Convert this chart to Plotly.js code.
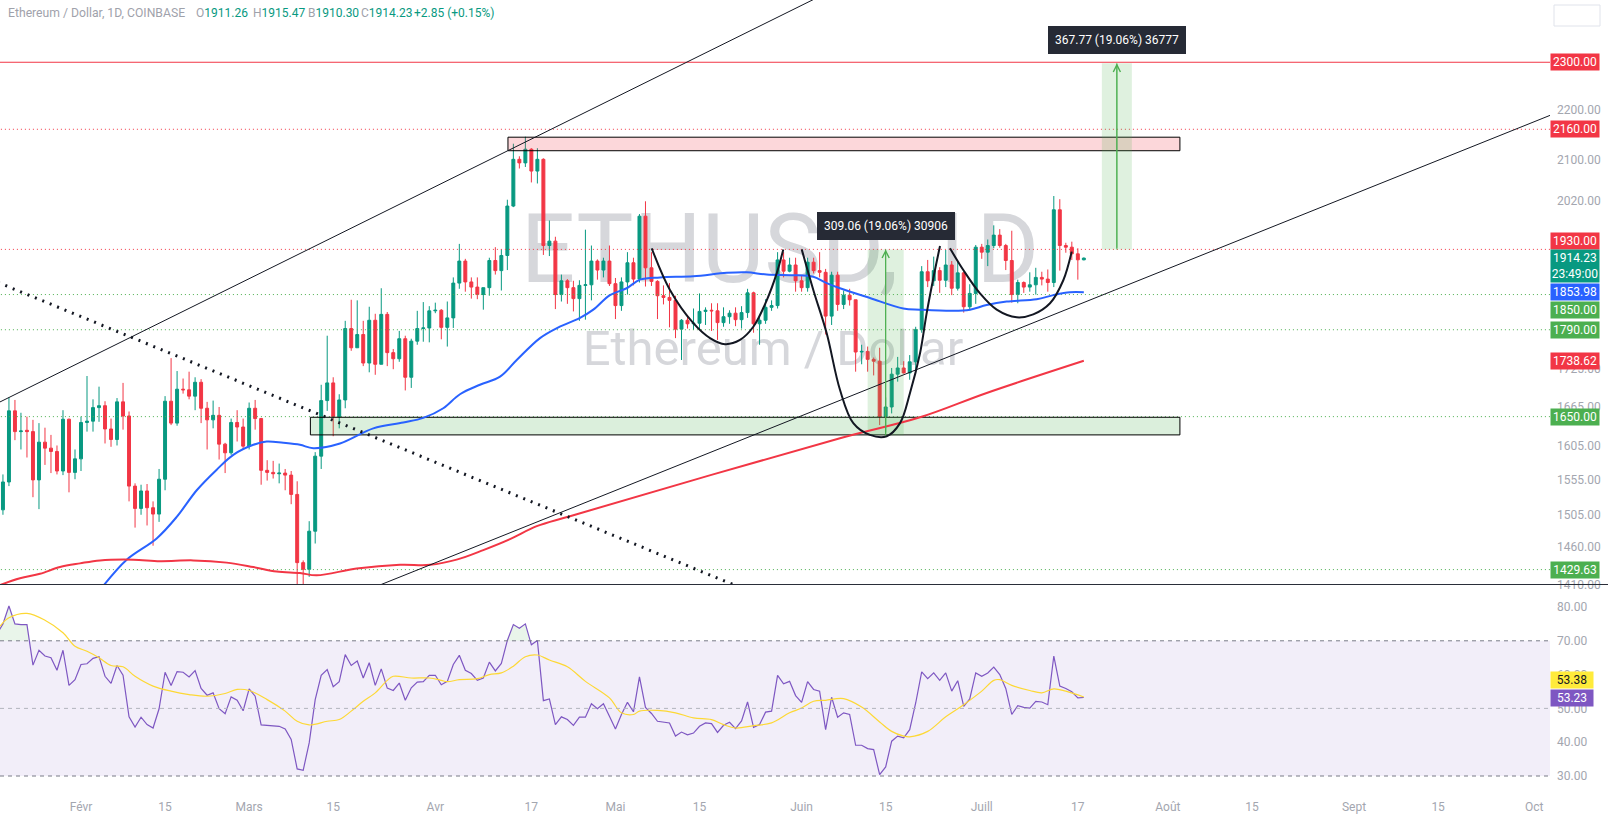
<!DOCTYPE html>
<html><head><meta charset="utf-8">
<script src="https://cdn.plot.ly/plotly-3.0.1.min.js"></script>
<style>
html,body{margin:0;padding:0;background:#fff;}
#wrap{position:relative;width:1608px;height:820px;overflow:hidden;background:#fff;}
.wm{position:absolute;width:1550px;text-align:center;font-family:Roboto,'Noto Sans',sans-serif;color:#d6d7db;white-space:nowrap;line-height:1;}
#wm1{font-size:96px;top:201px;left:5px;}
#wm2{font-size:49px;top:324px;left:-2px;}
#chart{position:absolute;left:0;top:0;width:1608px;height:820px;}
</style></head>
<body><div id="wrap"><div id="wm1" class="wm">ETHUSD, 1D</div><div id="wm2" class="wm">Ethereum / Dollar</div><div id="chart"></div></div>
<script>
// ---------- daily candles (Coinbase ETH/USD) ----------
const DATES = [
'2023-01-18','2023-01-19','2023-01-20','2023-01-21','2023-01-22','2023-01-23','2023-01-24','2023-01-25','2023-01-26','2023-01-27','2023-01-28','2023-01-29','2023-01-30','2023-01-31',
'2023-02-01','2023-02-02','2023-02-03','2023-02-04','2023-02-05','2023-02-06','2023-02-07','2023-02-08','2023-02-09','2023-02-10','2023-02-11','2023-02-12','2023-02-13','2023-02-14','2023-02-15','2023-02-16','2023-02-17','2023-02-18','2023-02-19','2023-02-20','2023-02-21','2023-02-22','2023-02-23','2023-02-24','2023-02-25','2023-02-26','2023-02-27','2023-02-28',
'2023-03-01','2023-03-02','2023-03-03','2023-03-04','2023-03-05','2023-03-06','2023-03-07','2023-03-08','2023-03-09','2023-03-10','2023-03-11','2023-03-12','2023-03-13','2023-03-14','2023-03-15','2023-03-16','2023-03-17','2023-03-18','2023-03-19','2023-03-20','2023-03-21','2023-03-22','2023-03-23','2023-03-24','2023-03-25','2023-03-26','2023-03-27','2023-03-28','2023-03-29','2023-03-30','2023-03-31',
'2023-04-01','2023-04-02','2023-04-03','2023-04-04','2023-04-05','2023-04-06','2023-04-07','2023-04-08','2023-04-09','2023-04-10','2023-04-11','2023-04-12','2023-04-13','2023-04-14','2023-04-15','2023-04-16','2023-04-17','2023-04-18','2023-04-19','2023-04-20','2023-04-21','2023-04-22','2023-04-23','2023-04-24','2023-04-25','2023-04-26','2023-04-27','2023-04-28','2023-04-29','2023-04-30',
'2023-05-01','2023-05-02','2023-05-03','2023-05-04','2023-05-05','2023-05-06','2023-05-07','2023-05-08','2023-05-09','2023-05-10','2023-05-11','2023-05-12','2023-05-13','2023-05-14','2023-05-15','2023-05-16','2023-05-17','2023-05-18','2023-05-19','2023-05-20','2023-05-21','2023-05-22','2023-05-23','2023-05-24','2023-05-25','2023-05-26','2023-05-27','2023-05-28','2023-05-29','2023-05-30','2023-05-31',
'2023-06-01','2023-06-02','2023-06-03','2023-06-04','2023-06-05','2023-06-06','2023-06-07','2023-06-08','2023-06-09','2023-06-10','2023-06-11','2023-06-12','2023-06-13','2023-06-14','2023-06-15','2023-06-16','2023-06-17','2023-06-18','2023-06-19','2023-06-20','2023-06-21','2023-06-22','2023-06-23','2023-06-24','2023-06-25','2023-06-26','2023-06-27','2023-06-28','2023-06-29','2023-06-30',
'2023-07-01','2023-07-02','2023-07-03','2023-07-04','2023-07-05','2023-07-06','2023-07-07','2023-07-08','2023-07-09','2023-07-10','2023-07-11','2023-07-12','2023-07-13','2023-07-14','2023-07-15','2023-07-16','2023-07-17','2023-07-18'];
const OPEN = [
1567,1512,1552,1659,1627,1629,1627,1555,1611,1602,1597,1568,1646,1566,
1586,1641,1643,1664,1667,1631,1615,1673,1651,1546,1514,1539,1515,1506,1556,1674,1640,1693,1692,1682,1704,1663,1645,1652,1608,1595,1641,1634,
1605,1663,1647,1569,1566,1564,1565,1562,1534,1439,1430,1482,1590,1675,1703,1650,1676,1792,1760,1782,1735,1806,1733,1816,1752,1742,1775,1712,1771,1792,1793,
1822,1823,1794,1810,1870,1909,1872,1863,1850,1862,1910,1892,1919,2010,2100,2093,2120,2077,2100,1937,1945,1850,1874,1862,1843,1866,1867,1909,1893,1909,
1869,1831,1872,1906,1877,1991,1897,1873,1848,1845,1840,1791,1806,1800,1801,1821,1823,1822,1802,1812,1818,1807,1819,1853,1800,1806,1828,1831,1911,1891,1902,
1874,1862,1907,1892,1889,1813,1884,1833,1849,1841,1753,1754,1741,1738,1650,1665,1717,1727,1719,1737,1790,1890,1874,1892,1875,1902,1861,1888,1829,1852,
1934,1925,1937,1956,1937,1910,1850,1871,1863,1867,1880,1877,1871,2003,1937,1934,1922,1911.26];
const HIGH = [
1604,1563,1680,1676,1656,1650,1645,1640,1633,1622,1606,1660,1647,1600,
1650,1714,1677,1697,1674,1647,1679,1703,1658,1550,1548,1549,1524,1571,1682,1743,1722,1710,1721,1712,1709,1673,1675,1665,1610,1647,1660,1647,
1672,1676,1648,1584,1583,1579,1571,1568,1553,1442,1496,1596,1700,1780,1712,1685,1805,1841,1840,1805,1829,1817,1861,1820,1758,1788,1780,1775,1822,1837,1830,
1836,1825,1838,1880,1940,1913,1880,1880,1862,1915,1934,1930,2022,2131,2106,2145,2122,2122,2102,1983,1953,1885,1877,1874,1875,1966,1937,1912,1915,1937,
1879,1880,1925,1915,1995,2019,1925,1875,1866,1870,1848,1808,1815,1826,1852,1828,1835,1835,1828,1823,1828,1830,1860,1855,1815,1842,1840,1925,1925,1915,1915,
1884,1915,1915,1925,1895,1890,1890,1857,1860,1841,1765,1762,1744,1760,1680,1727,1745,1738,1748,1795,1900,1911,1917,1898,1929,1909,1908,1890,1868,1938,
1940,1948,1974,1967,1940,1964,1876,1873,1889,1897,1890,1894,2029,2023,1942,1944,1932,1915.47];
const LOW = [
1494,1505,1546,1614,1600,1588,1530,1513,1577,1565,1563,1562,1537,1556,
1568,1627,1627,1642,1609,1604,1606,1630,1524,1487,1505,1490,1462,1495,1540,1637,1636,1686,1677,1660,1640,1600,1632,1585,1565,1592,1612,1600,
1600,1630,1548,1554,1557,1550,1540,1520,1405,1368,1420,1465,1571,1659,1620,1632,1663,1755,1760,1730,1720,1716,1733,1730,1725,1737,1691,1695,1765,1770,1769,
1818,1774,1762,1793,1860,1855,1843,1842,1824,1848,1885,1857,1893,2008,2082,2085,2055,2053,1920,1918,1825,1838,1834,1821,1805,1807,1840,1876,1880,1865,
1808,1822,1850,1866,1871,1864,1865,1808,1833,1794,1776,1740,1792,1790,1790,1798,1788,1773,1795,1800,1796,1792,1810,1785,1765,1800,1822,1826,1880,1889,1855,
1855,1855,1887,1880,1782,1798,1822,1825,1831,1721,1733,1721,1715,1637,1626,1655,1705,1718,1708,1722,1785,1863,1865,1853,1863,1849,1857,1819,1823,1834,
1913,1900,1932,1933,1893,1836,1835,1853,1855,1850,1866,1855,1863,1892,1924,1911,1876,1910.30];
const CLOSE = [
1512,1552,1659,1627,1628,1627,1555,1611,1602,1597,1568,1646,1566,1586,
1641,1643,1664,1667,1631,1615,1673,1651,1546,1514,1539,1515,1506,1556,1674,1640,1693,1692,1682,1704,1663,1645,1652,1608,1595,1641,1634,1605,
1663,1647,1569,1566,1564,1565,1562,1534,1439,1430,1482,1590,1675,1703,1650,1676,1792,1760,1782,1735,1806,1733,1816,1752,1742,1775,1712,1771,1792,1793,1822,
1823,1794,1810,1870,1909,1872,1863,1850,1862,1910,1892,1919,2010,2100,2093,2120,2077,2100,1937,1945,1850,1874,1862,1843,1866,1867,1909,1893,1909,1869,
1831,1872,1906,1877,1991,1897,1873,1848,1845,1840,1791,1806,1800,1801,1821,1823,1822,1802,1812,1818,1807,1819,1853,1800,1806,1828,1831,1911,1891,1902,1874,
1862,1907,1892,1889,1813,1884,1833,1849,1841,1753,1754,1741,1738,1650,1665,1717,1727,1719,1737,1790,1890,1874,1892,1875,1902,1861,1888,1829,1852,1934,
1925,1937,1956,1937,1910,1850,1871,1863,1867,1880,1877,1871,2003,1937,1934,1922,1911.26,1914.23];

// ---------- RSI(14) and its moving average ----------
const RSI = [
72,75,80.3,75,74.8,74.8,62.8,67.2,65.5,65,61.3,67.2,56.8,58.5,
63,63.2,64.8,65.3,59.5,57.4,62.7,59.8,47.5,44.5,47.4,45.2,44.2,49.9,60.7,56.8,60.9,60.7,59.3,61.2,55.9,53.9,54.6,49.9,48.4,53.4,52.4,49.3,
55.8,53.6,45.1,44.9,44.7,44.7,43.9,40.8,32.1,31.7,39.8,52.6,59.8,61.5,56.4,57.9,65.9,62.7,64,59,63.5,56.8,61.7,56,55.3,57.5,52.4,56.1,57.8,57.9,59.8,
59.8,57,58,63,65.7,61.3,60.3,58.3,59,63.7,61.1,63.3,70.1,74.8,73.7,75,68.8,70.1,52.3,52.8,45.2,47.5,46.7,45,47.4,47.4,51.4,49.9,51.4,47.7,
43.9,48.2,51.8,49,59.3,50.3,48.5,46.2,46,45.7,41.8,43,42.2,42.7,44.7,45.7,45.5,42.9,45,45.9,44,46.3,51.9,44.4,45.2,48.9,49.2,59.8,57.3,58,53.8,
51.8,57.9,55.6,55.1,43.7,53.3,47.4,48.7,48.2,39.1,39.1,38.1,37.8,30.4,32.7,40.3,41.8,41.3,43.7,51.6,60.8,58.8,60.5,58.3,60.5,55.1,58.2,50.6,52.8,60.5,
59.5,60.5,62.2,60,55.9,48.2,50.8,50.3,50.1,52.1,51.9,51.1,65.5,56.6,55.9,54.9,53.1,53.23];
const RSI_MA_DATES = ['2023-01-18 12:00','2023-01-20','2023-01-23','2023-01-26','2023-01-29','2023-01-31','2023-02-02','2023-02-04','2023-02-06','2023-02-08','2023-02-10','2023-02-13','2023-02-16','2023-02-19','2023-02-22','2023-02-25','2023-02-27','2023-03-01','2023-03-04','2023-03-07','2023-03-09','2023-03-11','2023-03-14','2023-03-16','2023-03-18','2023-03-20','2023-03-22','2023-03-24','2023-03-25','2023-03-28','2023-03-31','2023-04-02','2023-04-03','2023-04-05','2023-04-08','2023-04-10','2023-04-12','2023-04-14','2023-04-16','2023-04-18','2023-04-20','2023-04-23','2023-04-26','2023-04-30','2023-05-02','2023-05-04','2023-05-05','2023-05-08','2023-05-11','2023-05-14','2023-05-17','2023-05-19','2023-05-21','2023-05-24','2023-05-27','2023-05-30','2023-06-01','2023-06-03','2023-06-05','2023-06-08','2023-06-11','2023-06-14','2023-06-16','2023-06-18','2023-06-19','2023-06-22','2023-06-25','2023-06-28','2023-07-01','2023-07-03','2023-07-04','2023-07-06','2023-07-09','2023-07-11','2023-07-13','2023-07-15','2023-07-18'];
const RSI_MA_VALS = [74.3,76.8,78.1,76.1,72.4,68.4,66.9,65,62.7,62.3,59.5,56.6,55.1,54.1,53.6,54.4,55.6,55.3,52.6,49.2,46.2,45.1,46.2,46.7,49.2,52.1,54.6,58.3,59.5,59,59,58.3,57.9,58.5,58.8,60,60.5,62.5,65.3,65.8,64.3,62.3,58,53.1,48.7,48.2,49.2,49.4,48.7,47.2,46.7,45.2,44.2,44.9,45.7,48.7,50.1,52.1,52.4,52.9,50.4,46,43.2,41.8,41.6,43.2,47.5,51.1,55.1,58.3,58.5,56.8,55.3,54.6,55.8,55.1,53.38];
// overbought (RSI above 70) areas
const OB1_DATES = ['2023-01-17 12:00','2023-01-18','2023-01-19','2023-01-20','2023-01-21','2023-01-22','2023-01-23','2023-01-23 09:36'];
const OB1_VALS = [70,72,75,80.3,75,74.8,74.8,70];
const OB2_DATES = ['2023-04-12 23:38','2023-04-13','2023-04-14','2023-04-15','2023-04-16','2023-04-16 19:21'];
const OB2_VALS = [70,70.1,74.8,73.7,75,70];

// ---------- moving averages on price (day offset from 1 Feb 2023, value) ----------
const MA50_DAY = [3.71,7.61,12.6,15.94,19.27,22.6,25.36,28.7,30.92,33.69,36.47,38.68,43.13,48.68,53.67,57,60.33,63.11,66.44,69.78,72.56,76.44,79.5,83.1,85.31,88.09,90.87,93.09,96.42,101.97,107.53,110.86,114.19,118.62,121.95,124.18,126.39,131.39,136.93,139.72,145.26,148.04,150.82,154.15,159.15,161.92,164.7,167];
const MA50_VAL = [1408,1443,1472,1502,1540,1570,1592,1607,1612,1610,1607,1602,1609,1632,1641,1648,1663,1685,1700,1713,1740,1776,1794,1810,1824,1849,1861,1876,1880,1882,1888,1889,1885,1884,1881,1870,1861,1844,1826,1824,1822,1824,1832,1838,1842,1849,1854,1853.98];
const MA200_DAY = [-13.49,-10.16,-6.83,-3.5,-0.17,3.16,8.71,13.16,18.7,24.26,28.7,32.59,36.47,39.25,45.91,53.12,58.12,62.56,66.99,71.44,75.89,81.43,126.39,139.72,150.82,167];
const MA200_VAL = [1409,1418,1424,1433,1438,1442,1443,1441,1442,1439,1433,1427,1425,1422,1431,1436,1436,1443,1456,1471,1489,1503,1617,1649,1687,1738.62];

// ---------- drawings ----------
const LEVELS = [
  {p:2300, c:'#f23645', dash:'solid'},
  {p:2160, c:'#f23645', dash:'1px,3px'},
  {p:1930, c:'#f23645', dash:'1px,3px'},
  {p:1850, c:'#4caf50', dash:'1px,3px'},
  {p:1790, c:'#4caf50', dash:'1px,3px'},
  {p:1650, c:'#4caf50', dash:'1px,3px'},
  {p:1429.63, c:'#4caf50', dash:'1px,3px'}];
const ZONE_RED = {d0:71.1, d1:183, p0:2117, p1:2144};
const ZONE_GREEN = {d0:38.2, d1:183, p0:1622, p1:1649};
const TREND_UP_HI = {d:[-18,125], p:[1652,2460]};
const TREND_UP_LO = {d:[45,250], p:[1394,2215]};
const TREND_DOWN = {d:[-20,115], p:[1898,1389]};
const CUP1_DAY = [95.04,98.08,101.97,104.75,107.24,109.74,111.96,114.19,115.85,116.95];
const CUP1_VAL = [1932,1858,1801,1776,1766,1773,1795,1840,1887,1930];
const CUP2_DAY = [120.02,121.95,124.18,126.39,128.61,131.39,134.17,136.39,138.05,139.72,140.83,142.21,143.05];
const CUP2_VAL = [1930,1858,1784,1692,1640,1622,1620,1640,1687,1751,1818,1893,1936];
const CUP3_DAY = [144.71,146.93,149.71,152.49,155.82,158.58,161.37,163.58,164.98];
const CUP3_VAL = [1932,1893,1852,1824,1811,1816,1835,1875,1926];
const MEASURES = [
  {d0:131, d1:137, lo:1620.94, hi:1930, text:'309.06 (19.06%) 30906'},
  {d0:170, d1:175, lo:1929.9, hi:2297.67, text:'367.77 (19.06%) 36777'}];

const XTICKS = ['2023-02-01','2023-02-15','2023-03-01','2023-03-15','2023-04-01','2023-04-17','2023-05-01','2023-05-15','2023-06-01','2023-06-15','2023-07-01','2023-07-17','2023-08-01','2023-08-15','2023-09-01','2023-09-15','2023-10-01'];
const XTICKTEXT = ['Févr','15','Mars','15','Avr','17','Mai','15','Juin','15','Juill','17','Août','15','Sept','15','Oct'];
const YTICKS = [2200,2100,2020,1725,1665,1605,1555,1505,1460,1410];
const RSITICKS = [30,40,50,60,70,80];

const HEADER_TITLE = 'Ethereum / Dollar, 1D, COINBASE';
const HEADER_ITEMS = [['O','1911.26'],['H','1915.47'],['B','1910.30'],['C','1914.23'],['','+2.85 (+0.15%)']];
const HEADER_X = [194, 251, 306, 359, 412];

const PRICE_LABELS = [
  {p:2300, t:'2300.00', bg:'#f23645', fc:'#fff', sh:0},
  {p:2160, t:'2160.00', bg:'#f23645', fc:'#fff', sh:0},
  {p:1930, t:'1930.00', bg:'#f23645', fc:'#fff', sh:8},
  {p:1914.23, t:'1914.23<br>23:49:00', bg:'#089981', fc:'#fff', sh:-8, two:true},
  {p:1853.98, t:'1853.98', bg:'#2962ff', fc:'#fff', sh:0},
  {p:1850, t:'1850.00', bg:'#4caf50', fc:'#fff', sh:-15},
  {p:1790, t:'1790.00', bg:'#4caf50', fc:'#fff', sh:0},
  {p:1738.62, t:'1738.62', bg:'#f23645', fc:'#fff', sh:0},
  {p:1650, t:'1650.00', bg:'#4caf50', fc:'#fff', sh:0},
  {p:1429.63, t:'1429.63', bg:'#4caf50', fc:'#fff', sh:0}];
const RSI_LABELS = [
  {v:53.38, t:'53.38', bg:'#ffeb3b', fc:'#131722', sh:17},
  {v:53.23, t:'53.23', bg:'#7e57c2', fc:'#fff', sh:-1}];

// ---------- helpers ----------
const T0 = Date.UTC(2023,1,1);
function dd(d){ return new Date(T0 + d*864e5).toISOString().slice(0,19).replace('T',' '); }
const FONT = 'Roboto, "Noto Sans", sans-serif';
const NOHOVER = {hoverinfo:'skip', showlegend:false};

const traces = [];
function line(xs, ys, color, width, dash, extra){
  traces.push(Object.assign({type:'scatter', mode:'lines', x:xs, y:ys, xaxis:'x', yaxis:'y',
    line:{color:color, width:width, dash:dash||'solid'}}, NOHOVER, extra||{}));
}
function rect(z, fill, border){
  traces.push(Object.assign({type:'scatter', mode:'lines',
    x:[dd(z.d0),dd(z.d1),dd(z.d1),dd(z.d0),dd(z.d0)], y:[z.p0,z.p0,z.p1,z.p1,z.p0],
    fill:'toself', fillcolor:fill, line:{color:border, width:border==='rgba(0,0,0,0)'?0:1}, xaxis:'x', yaxis:'y'}, NOHOVER));
}

traces.push({type:'candlestick', x:DATES, open:OPEN, high:HIGH, low:LOW, close:CLOSE,
  xaxis:'x', yaxis:'y', whiskerwidth:0, hoverinfo:'skip', showlegend:false,
  increasing:{line:{color:'#089981', width:1}, fillcolor:'#089981'},
  decreasing:{line:{color:'#f23645', width:1}, fillcolor:'#f23645'}});

LEVELS.forEach(l => line([dd(-20), dd(260)], [l.p, l.p], l.c, 1, l.dash));
rect(ZONE_RED, 'rgba(242,54,69,0.2)', '#000000');
rect(ZONE_GREEN, 'rgba(76,175,80,0.2)', '#000000');
MEASURES.forEach(m => rect({d0:m.d0, d1:m.d1, p0:m.lo, p1:m.hi}, 'rgba(76,175,80,0.18)', 'rgba(0,0,0,0)'));
line(MA50_DAY.map(dd), MA50_VAL, '#2962ff', 2, 'solid', {line:{color:'#2962ff', width:2, shape:'spline'}});
line(MA200_DAY.map(dd), MA200_VAL, '#f23645', 2, 'solid', {line:{color:'#f23645', width:2, shape:'spline'}});
line(TREND_UP_HI.d.map(dd), TREND_UP_HI.p, '#131722', 1);
line(TREND_UP_LO.d.map(dd), TREND_UP_LO.p, '#131722', 1);
line(TREND_DOWN.d.map(dd), TREND_DOWN.p, '#131722', 3, '2px,6px');
[[CUP1_DAY,CUP1_VAL],[CUP2_DAY,CUP2_VAL],[CUP3_DAY,CUP3_VAL]].forEach(c =>
  line(c[0].map(dd), c[1], '#131722', 2, 'solid', {line:{color:'#131722', width:2, shape:'spline', smoothing:1}}));
MEASURES.forEach(m => { const mid=(m.d0+m.d1)/2; line([dd(mid),dd(mid)],[m.lo,m.hi],'#4caf50',1); });

[[OB1_DATES,OB1_VALS],[OB2_DATES,OB2_VALS]].forEach(o => traces.push({type:'scatter', mode:'lines', x:o[0], y:o[1],
  xaxis:'x', yaxis:'y2', fill:'toself', fillcolor:'rgba(76,175,80,0.12)', line:{width:0}, hoverinfo:'skip', showlegend:false}));
traces.push({type:'scatter', mode:'lines', x:DATES, y:RSI, xaxis:'x', yaxis:'y2',
  line:{color:'#7e57c2', width:1.2}, hoverinfo:'skip', showlegend:false});
traces.push({type:'scatter', mode:'lines', x:RSI_MA_DATES, y:RSI_MA_VALS, xaxis:'x', yaxis:'y2',
  line:{color:'#fdd835', width:1.2, shape:'spline'}, hoverinfo:'skip', showlegend:false});

// ---------- layout ----------
const H = 792, W = 1550;
const annotations = [];
annotations.push({xref:'paper', yref:'paper', x:6/W, y:1-13/H, xanchor:'left', yanchor:'middle', showarrow:false,
  font:{family:FONT, size:12.2, color:'#9fa2ab'}, text:HEADER_TITLE});
HEADER_ITEMS.forEach((it, i) => annotations.push({xref:'paper', yref:'paper', x:HEADER_X[i]/W, y:1-13/H,
  xanchor:'left', yanchor:'middle', showarrow:false, font:{family:FONT, size:12, color:'#9fa2ab'},
  text: it[0] + '<span style="color:#089981">' + it[1] + '</span>'}));
MEASURES.forEach(m => {
  const mid = (m.d0+m.d1)/2;
  annotations.push({xref:'x', yref:'y', x:dd(mid), y:Math.log10(m.hi), ax:0, ay:186, text:'', showarrow:true,
    arrowhead:5, arrowsize:1.4, arrowwidth:1, arrowcolor:'#4caf50', standoff:0});
  annotations.push({xref:'x', yref:'y', x:dd(mid), y:Math.log10(m.hi), yanchor:'bottom', yshift:9, showarrow:false,
    text:m.text, font:{family:FONT, size:12, color:'#ffffff'}, bgcolor:'#262a35', bordercolor:'#262a35', borderpad:6});
});
PRICE_LABELS.forEach(l => annotations.push({xref:'paper', yref:'y', x:1, y:Math.log10(l.p), xanchor:'left', yanchor:'middle',
  yshift:l.sh, showarrow:false, text:l.t, width:46, height:l.two?30:14, borderpad:1, bgcolor:l.bg, align:'center',
  font:{family:FONT, size:12, color:l.fc}}));
RSI_LABELS.forEach(l => annotations.push({xref:'paper', yref:'y2', x:1, y:l.v, xanchor:'left', yanchor:'middle',
  yshift:l.sh, showarrow:false, text:l.t, width:40, height:14, borderpad:1, bgcolor:l.bg, align:'center',
  font:{family:FONT, size:12, color:l.fc}}));

const shapes = [
  {type:'rect', xref:'paper', yref:'y2', x0:0, x1:1, y0:30, y1:70, fillcolor:'rgba(126,87,194,0.1)', line:{width:0}, layer:'below'},
  {type:'line', xref:'paper', yref:'y2', x0:0, x1:1, y0:70, y1:70, line:{color:'#787b86', width:1, dash:'4px,4px'}},
  {type:'line', xref:'paper', yref:'y2', x0:0, x1:1, y0:50, y1:50, line:{color:'#b2b5be', width:1, dash:'4px,4px'}},
  {type:'line', xref:'paper', yref:'y2', x0:0, x1:1, y0:30, y1:30, line:{color:'#787b86', width:1, dash:'4px,4px'}},
  {type:'line', xref:'paper', yref:'paper', x0:0, x1:1608/W, y0:1-584.5/H, y1:1-584.5/H, line:{color:'#2a2e39', width:1}},
  {type:'rect', xref:'paper', yref:'paper', x0:1554/W, x1:1600/W, y0:1-5/H, y1:1-26/H, line:{color:'#e0e3eb', width:1}, fillcolor:'#ffffff'}
];

const tickFont = {family:FONT, size:12, color:'#a3a6af'};
const layout = {
  width:1608, height:820, margin:{l:0, r:58, t:0, b:28, pad:0},
  paper_bgcolor:'rgba(0,0,0,0)', plot_bgcolor:'rgba(0,0,0,0)', showlegend:false,
  font:{family:FONT},
  xaxis:{type:'date', range:[dd(-13.489), dd(244.63)], domain:[0,1], anchor:'y2',
    rangeslider:{visible:false}, showgrid:false, zeroline:false, showline:false, ticks:'',
    tickmode:'array', tickvals:XTICKS, ticktext:XTICKTEXT, tickfont:tickFont, ticklabelstandoff:6},
  yaxis:{type:'log', domain:[1-584.5/H, 1], range:[Math.log10(1409.8), Math.log10(2438.2)], side:'right', anchor:'x',
    showgrid:false, zeroline:false, showline:false, ticks:'', tickmode:'array', tickvals:YTICKS,
    ticktext:YTICKS.map(v=>v.toFixed(2)), tickfont:tickFont, ticklabelstandoff:6},
  yaxis2:{domain:[0, 1-586/H], range:[25.27, 86.21], side:'right', anchor:'x', showgrid:false, zeroline:false,
    showline:false, ticks:'', tickmode:'array', tickvals:RSITICKS, ticktext:RSITICKS.map(v=>v.toFixed(2)),
    tickfont:tickFont, ticklabelstandoff:6},
  annotations:annotations, shapes:shapes
};
Plotly.newPlot('chart', traces, layout, {staticPlot:true, displayModeBar:false});
</script></body></html>
